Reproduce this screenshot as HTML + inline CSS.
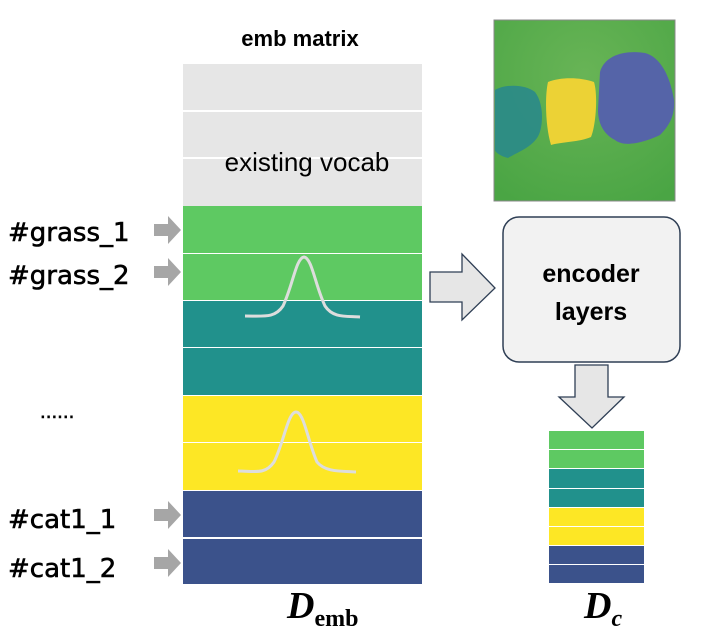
<!DOCTYPE html>
<html><head><style>
body{margin:0;background:#fff;width:710px;height:634px;overflow:hidden}
svg{display:block}
</style></head><body>
<svg width="710" height="634" viewBox="0 0 710 634" xmlns="http://www.w3.org/2000/svg">
<defs>
<radialGradient id="g1" cx="0.5" cy="0.3" r="0.8"><stop offset="0" stop-color="#68b456"/><stop offset="1" stop-color="#4aa544"/></radialGradient>
</defs>
<text x="300" y="46" text-anchor="middle" font-family="Liberation Sans, sans-serif" font-weight="bold" font-size="22">emb matrix</text>
<rect x="183" y="64" width="239" height="142" fill="#e6e6e6"/>
<line x1="183" y1="111" x2="422" y2="111" stroke="#fff" stroke-width="2"/>
<line x1="183" y1="158" x2="422" y2="158" stroke="#fff" stroke-width="2"/>
<text x="307" y="171" text-anchor="middle" font-family="Liberation Sans, sans-serif" font-size="26">existing vocab</text>
<rect x="183" y="206" width="239" height="47" fill="#5ec962"/>
<rect x="183" y="254" width="239" height="46" fill="#5ec962"/>
<rect x="183" y="301" width="239" height="46" fill="#21918c"/>
<rect x="183" y="348" width="239" height="47" fill="#21918c"/>
<rect x="183" y="396" width="239" height="46" fill="#fde725"/>
<rect x="183" y="443" width="239" height="47" fill="#fde725"/>
<rect x="183" y="491" width="239" height="46" fill="#3b528b"/>
<rect x="183" y="539" width="239" height="45" fill="#3b528b"/>
<path d="M245 316 C265 316 275 318 283 306 C293 285 296 258 304 257 C312 258 315 285 325 306 C333 318 345 316 360 317" fill="none" stroke="#ddd" stroke-width="3"/>
<path d="M238 471 C255 471 265 475 274 462 C284 442 288 412 296 412 C304 412 308 442 317 462 C325 472 340 471 356 472" fill="none" stroke="#ddd" stroke-width="3"/>
<g font-family="DejaVu Sans, sans-serif" font-size="26" fill="#000" stroke="#000" stroke-width="0.6">
<text x="8" y="241">#grass_1</text>
<text x="8" y="284">#grass_2</text>
<text x="8" y="528">#cat1_1</text>
<text x="8" y="577">#cat1_2</text>
<text x="40" y="418" font-size="18">......</text>
</g>
<g fill="#a6a6a6">
<path d="M154 224 h14 v-8 l13 14 l-13 14 v-8 h-14z"/>
<path d="M154 266 h14 v-8 l13 14 l-13 14 v-8 h-14z"/>
<path d="M154 509 h14 v-8 l13 14 l-13 14 v-8 h-14z"/>
<path d="M154 557 h14 v-8 l13 14 l-13 14 v-8 h-14z"/>
</g>
<rect x="494" y="20" width="181" height="181" fill="url(#g1)" stroke="#888" stroke-width="1"/>
<path d="M495 90 C505 84 525 84 535 92 C545 105 543 130 537 138 C530 148 518 152 508 158 C500 156 495 152 495 150z" fill="#2a8a8a" opacity="0.9"/>
<path d="M548 82 C560 77 580 77 594 82 C598 95 596 125 591 137 C580 142 560 142 551 145 C545 125 545 95 548 82z" fill="#ecd235"/>
<path d="M600 72 C605 55 625 50 645 53 C660 57 670 75 674 100 C675 115 670 125 660 135 C645 142 625 148 615 140 C605 135 598 125 598 110z" fill="#5564a8"/>
<path d="M430 272 h32 v-18 l33 34 l-33 32 v-18 h-32z" fill="#e6e6e6" stroke="#2f3f55" stroke-width="1.3"/>
<rect x="503" y="217" width="177" height="145" rx="16" fill="#f2f2f2" stroke="#2f3f55" stroke-width="1.5"/>
<text x="591" y="282" text-anchor="middle" font-family="Liberation Sans, sans-serif" font-weight="bold" font-size="25">encoder</text>
<text x="591" y="320" text-anchor="middle" font-family="Liberation Sans, sans-serif" font-weight="bold" font-size="25">layers</text>
<path d="M575 365 h33 v32 h16 l-32 31 l-33 -31 h16z" fill="#e6e6e6" stroke="#2f3f55" stroke-width="1.3"/>
<rect x="549" y="431" width="95" height="18" fill="#5ec962"/>
<rect x="549" y="450" width="95" height="18" fill="#5ec962"/>
<rect x="549" y="469" width="95" height="19" fill="#21918c"/>
<rect x="549" y="489" width="95" height="18" fill="#21918c"/>
<rect x="549" y="508" width="95" height="18" fill="#fde725"/>
<rect x="549" y="527" width="95" height="18" fill="#fde725"/>
<rect x="549" y="546" width="95" height="18" fill="#3b528b"/>
<rect x="549" y="565" width="95" height="18" fill="#3b528b"/>
<text x="287" y="618" font-family="Liberation Serif, serif" font-weight="bold" font-style="italic" font-size="38">D<tspan font-style="normal" font-size="24" dy="8">emb</tspan></text>
<text x="584" y="618" font-family="Liberation Serif, serif" font-weight="bold" font-style="italic" font-size="38">D<tspan font-size="24" dy="8">c</tspan></text>
</svg>
</body></html>
